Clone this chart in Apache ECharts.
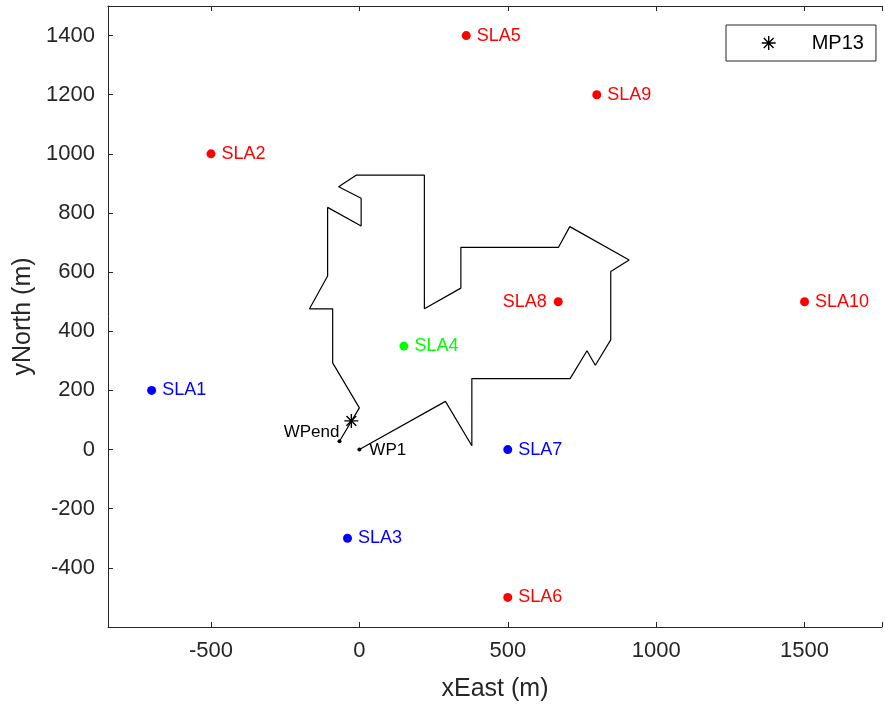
<!DOCTYPE html>
<html>
<head>
<meta charset="utf-8">
<script src="https://cdn.jsdelivr.net/npm/echarts@6/dist/echarts.min.js"></script>
<style>
  html, body { margin: 0; padding: 0; background: #fff; }
  #chart { width: 885px; height: 709px; }
</style>
</head>
<body>
<div id="chart"></div>
<script>
// flight path, from WP1 to WPend
var pathX = [0, 290, 379, 379, 710, 767, 795, 847, 847, 909, 709, 671, 342, 342, 219, 219, -11, -70, 6, 6, -107, -107, -168, -90, -90, 0, -67];
var pathY = [0, 163, 13, 240, 240, 334, 285, 371, 602, 641, 754, 684, 684, 546, 476, 928, 928, 889, 850, 756, 819, 587, 476, 476, 293, 141, 28];

// way points
var wpNames = ['WP1', 'WPend'];
var wpX = [0, -67];
var wpY = [0, 28];

// measurement point
var mpNames = ['MP13'];
var mpX = [-27];
var mpY = [97];

// SLA sites, one group per colour
var redNames = ['SLA2', 'SLA5', 'SLA6', 'SLA8', 'SLA9', 'SLA10'];
var redX = [-500, 360, 500, 670, 800, 1500];
var redY = [1000, 1400, -500, 500, 1200, 500];

var blueNames = ['SLA1', 'SLA3', 'SLA7'];
var blueX = [-700, -40, 500];
var blueY = [200, -300, 0];

var greenNames = ['SLA4'];
var greenX = [150];
var greenY = [350];

// tick labels
var xTicks = [-500, 0, 500, 1000, 1500];
var yTicks = [-400, -200, 0, 200, 400, 600, 800, 1000, 1200, 1400];

var FONT = 'Liberation Sans, Arial, Helvetica, sans-serif';
var AXC = '#262626';

function pts(names, xs, ys) {
  return names.map(function (n, i) { return { name: n, value: [xs[i], ys[i]] }; });
}

function slaSeries(names, xs, ys, color) {
  return {
    type: 'scatter',
    symbol: 'circle',
    symbolSize: 9,
    itemStyle: { color: color, opacity: 1 },
    label: {
      show: true,
      formatter: '{b}',
      position: 'right',
      distance: 6,
      color: color,
      fontSize: 18,
      fontFamily: FONT
    },
    data: pts(names, xs, ys).map(function (d) {
      if (d.name === 'SLA8') d.label = { position: 'left', distance: 7 };
      return d;
    }),
    z: 3
  };
}

var pathData = pathX.map(function (x, i) { return [x, pathY[i]]; });

var asterisk = 'path://M10,0L10,20M0,10L20,10M3,3L17,17M3,17L17,3';

var axisCommon = {
  type: 'value',
  splitLine: { show: false },
  axisLine: { show: true, onZero: false, lineStyle: { color: AXC, width: 1 } },
  axisTick: { show: true, inside: true, length: 5, lineStyle: { color: AXC } },
};

var chart = echarts.init(document.getElementById('chart'));
var option = {
  animation: false,
  textStyle: { fontFamily: FONT },
  grid: { left: 108, right: 0, top: 6, bottom: 82, containLabel: false },
  legend: {
    data: [{ name: 'MP13', icon: asterisk }],
    left: 726,
    top: 25,
    orient: 'vertical',
    itemWidth: 46,
    itemHeight: 14,
    padding: [8, 12, 8, 35],
    borderColor: AXC,
    borderWidth: 1,
    backgroundColor: '#fff',
    itemStyle: { color: 'transparent', borderColor: '#000', borderWidth: 1.4, opacity: 1 },
    textStyle: { fontSize: 20, color: '#000', fontFamily: FONT, padding: [0, 0, 0, 15] }
  },
  xAxis: [
    Object.assign({}, axisCommon, {
      min: -847, max: 1761, splitNumber: 5,
      position: 'bottom',
      name: 'xEast (m)', nameLocation: 'middle', nameGap: 50,
      nameTextStyle: { fontSize: 25, color: AXC, fontFamily: FONT },
      axisLabel: {
        margin: 13, fontSize: 22, color: AXC, fontFamily: FONT,
        formatter: function (v) { return xTicks.indexOf(v) >= 0 ? String(v) : ''; }
      }
    }),
    Object.assign({}, axisCommon, {
      min: -847, max: 1761, splitNumber: 5,
      position: 'top',
      axisLabel: { show: false }
    })
  ],
  yAxis: [
    Object.assign({}, axisCommon, {
      min: -600, max: 1500, interval: 200,
      position: 'left',
      name: 'yNorth (m)', nameLocation: 'middle', nameGap: 68,
      nameTextStyle: { fontSize: 25, color: AXC, fontFamily: FONT },
      axisLabel: {
        margin: 13, fontSize: 22, color: AXC, fontFamily: FONT,
        formatter: function (v) { return yTicks.indexOf(v) >= 0 ? String(v) : ''; }
      }
    })
  ],
  series: [
    {
      type: 'line',
      data: pathData,
      showSymbol: false,
      symbol: 'none',
      lineStyle: { color: '#000', width: 1.2 },
      z: 2,
      silent: true
    },
    {
      type: 'scatter',
      symbol: 'circle',
      symbolSize: 4,
      itemStyle: { color: '#000', opacity: 1 },
      label: { show: true, formatter: '{b}', color: '#000', fontSize: 17, fontFamily: FONT },
      data: pts(wpNames, wpX, wpY).map(function (d) {
        if (d.name === 'WP1') d.label = { position: 'right', distance: 8, offset: [0, 1] };
        else d.label = { position: 'left', distance: -2, offset: [0, -9] };
        return d;
      }),
      z: 3
    },
    slaSeries(redNames, redX, redY, '#ff0000'),
    slaSeries(blueNames, blueX, blueY, '#0000ff'),
    slaSeries(greenNames, greenX, greenY, '#00ff00'),
    {
      name: 'MP13',
      type: 'scatter',
      symbol: asterisk,
      symbolSize: 14,
      itemStyle: { color: 'transparent', borderColor: '#000', borderWidth: 1.4, opacity: 1 },
      data: pts(mpNames, mpX, mpY),
      z: 4
    }
  ]
};
chart.setOption(option);
</script>
</body>
</html>
